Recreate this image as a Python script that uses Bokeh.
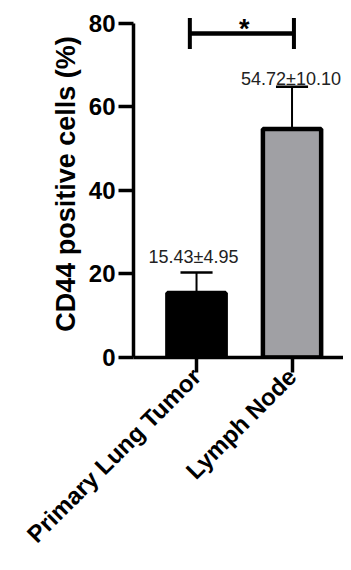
import math
from bokeh.plotting import figure
from bokeh.models import Range1d, FixedTicker, ColumnDataSource
from bokeh.core.properties import value
from bokeh.embed import file_html
from bokeh.resources import INLINE

# ---- data ----
categories = ["Primary Lung Tumor", "Lymph Node"]
means = [15.43, 54.72]
sds = [4.95, 10.10]
bar_colors = ["#000000", "#A0A0A4"]
y_ticks = [0, 20, 40, 60, 80]
significance = "*"

xs = [i + 1 for i in range(len(categories))]
tops = [m + s for m, s in zip(means, sds)]
labels = [f"{m:.2f}\u00b1{s:.2f}" for m, s in zip(means, sds)]

FONT = "Liberation Sans"

p = figure(width=343, height=562, output_backend="svg", toolbar_location=None,
           x_range=Range1d(0.34, 2.539), y_range=Range1d(0, 83.1),
           min_border_left=133, min_border_right=0, min_border_top=10, min_border_bottom=205)
p.outline_line_color = None
p.grid.visible = False
p.background_fill_color = "white"

# bars
src = ColumnDataSource(dict(x=xs, top=means, color=bar_colors))
p.vbar(x="x", top="top", width=0.61, source=src, fill_color="color",
       line_color="black", line_width=4.5)

# error bars (upper only)
p.segment(x0=xs, y0=means, x1=xs, y1=tops, line_color="black", line_width=2)
cap = 0.168
p.segment(x0=[x - cap for x in xs], y0=tops, x1=[x + cap for x in xs], y1=tops,
          line_color="black", line_width=2.5)

# value labels
p.text(x=[xs[0]], y=[tops[0]], text=[labels[0]], text_align="center",
       text_baseline="alphabetic", y_offset=-15, x_offset=-3,
       text_font=value(FONT), text_font_size="18px", text_color="#222222")
p.text(x=[xs[1]], y=[tops[1]], text=[labels[1]], text_align="center",
       text_baseline="alphabetic", y_offset=-8, x_offset=-1,
       text_font=value(FONT), text_font_size="18px", text_color="#222222")

# significance bracket
sig_y = 77.6
tick_h = 3.7
bx0, bx1 = xs[0] - 0.07, xs[1] + 0.02
p.segment(x0=[bx0], y0=[sig_y], x1=[bx1], y1=[sig_y], line_color="black", line_width=4.5)
p.segment(x0=[bx0, bx1], y0=[sig_y - tick_h, sig_y - tick_h], x1=[bx0, bx1],
          y1=[sig_y + tick_h, sig_y + tick_h], line_color="black", line_width=4)
p.text(x=[(xs[0] + xs[1]) / 2], y=[sig_y], text=[significance], text_align="center",
       text_baseline="alphabetic", y_offset=-4,
       text_font=value(FONT), text_font_size="27px", text_font_style="bold")

# y axis
ya = p.yaxis[0]
ya.ticker = FixedTicker(ticks=y_ticks)
ya.bounds = (0, 80)
ya.axis_line_width = 3.5
ya.major_tick_line_width = 3.5
ya.major_tick_out = 15
ya.major_tick_in = 0
ya.minor_tick_line_color = None
ya.major_label_text_font = FONT
ya.major_label_text_font_style = "bold"
ya.major_label_text_font_size = "24px"
ya.major_label_text_color = "black"
ya.major_label_standoff = 3
ya.axis_label = "CD44 positive cells (%)"
ya.axis_label_text_font = FONT
ya.axis_label_text_font_style = "bold"
ya.axis_label_text_font_size = "27px"
ya.axis_label_text_color = "black"
ya.axis_label_standoff = 5

# x axis
xa = p.xaxis[0]
xa.ticker = FixedTicker(ticks=xs)
xa.major_label_overrides = {x: c for x, c in zip(xs, categories)}
xa.axis_line_width = 3.5
xa.major_tick_line_width = 3.5
xa.major_tick_out = 15
xa.major_tick_in = 0
xa.minor_tick_line_color = None
xa.major_label_orientation = math.pi / 4
xa.major_label_text_font = FONT
xa.major_label_text_font_style = "bold"
xa.major_label_text_font_size = "24px"
xa.major_label_text_color = "black"
xa.major_label_standoff = 0

open("out.html", "w").write(file_html(p, INLINE))
